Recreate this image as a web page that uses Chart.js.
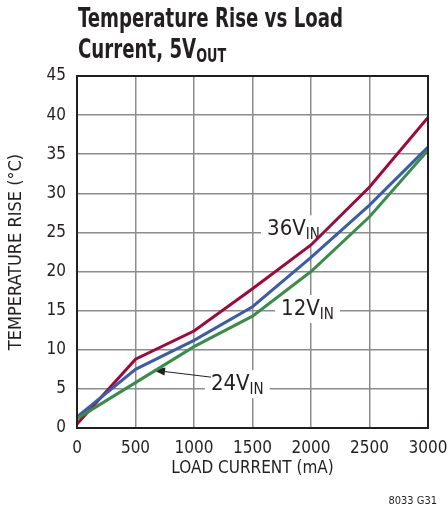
<!DOCTYPE html>
<html>
<head>
<meta charset="utf-8">
<script src="https://cdn.jsdelivr.net/npm/chart.js@4/dist/chart.umd.min.js"></script>
<style>
  html, body { margin: 0; padding: 0; background: #fff; }
  #wrap { width: 448px; height: 510px; position: relative; }
</style>
</head>
<body>
<div id="wrap"><canvas id="tempRise" width="448" height="510"></canvas></div>
<script>
const loadCurrent = [0, 500, 1000, 1500, 2000, 2500, 3000]; // mA
const rise12V = [1.2, 5.8, 10.4, 14.3, 20.0, 27.0, 35.5];
const rise24V = [1.4, 7.5, 11.2, 15.5, 21.8, 28.5, 35.9];
const rise36V = [0.5, 8.8, 12.4, 17.8, 23.4, 30.8, 39.7];
const xTicks = [0, 500, 1000, 1500, 2000, 2500, 3000];
const yTicks = [0, 5, 10, 15, 20, 25, 30, 35, 40, 45];

const FONT = '"Liberation Sans Narrow", "DejaVu Sans Condensed", Arial, sans-serif';
const INK = '#231f20';

// label positions are in data units, converted through the scales
const curveLabels = [
    { main: '36V', sub: 'IN', x: 1850, y: 25.4 },
    { main: '12V', sub: 'IN', x: 1970, y: 15.2 },
    { main: '24V', sub: 'IN', x: 1370, y: 5.6 }
];

function toXY(d) { return d.map((v, i) => ({ x: loadCurrent[i], y: v })); }

const decorations = {
    id: 'decorations',
    beforeDatasetsDraw(chart) {
        const { ctx, scales: { x, y } } = chart;
        ctx.save();
        ctx.textBaseline = 'middle';
        curveLabels.forEach(l => {
            const px = x.getPixelForValue(l.x);
            const py = y.getPixelForValue(l.y);
            ctx.font = '22px ' + FONT;
            const w1 = ctx.measureText(l.main).width;
            ctx.font = '15px ' + FONT;
            const w2 = ctx.measureText(l.sub).width;
            const w = w1 + w2;
            ctx.fillStyle = '#fff';
            ctx.fillRect(px - w / 2 - 6, py - 14, w + 12, 28);
            ctx.fillStyle = INK;
            ctx.textAlign = 'left';
            ctx.font = '22px ' + FONT;
            ctx.fillText(l.main, px - w / 2, py);
            ctx.font = '15px ' + FONT;
            ctx.fillText(l.sub, px - w / 2 + w1, py + 6);
        });
        // arrow for 24V
        const x0 = x.getPixelForValue(1145), y0 = y.getPixelForValue(6.5);
        const x1 = x.getPixelForValue(650), y1 = y.getPixelForValue(7.4);
        ctx.strokeStyle = INK;
        ctx.lineWidth = 1;
        ctx.beginPath();
        ctx.moveTo(x0, y0);
        ctx.lineTo(x1 + 8, y1 + 1);
        ctx.stroke();
        const a = Math.atan2(y0 - y1, x0 - x1);
        ctx.fillStyle = INK;
        ctx.beginPath();
        ctx.moveTo(x1, y1);
        ctx.lineTo(x1 + 12 * Math.cos(a) - 4 * Math.sin(a), y1 + 12 * Math.sin(a) + 4 * Math.cos(a));
        ctx.lineTo(x1 + 12 * Math.cos(a) + 4 * Math.sin(a), y1 + 12 * Math.sin(a) - 4 * Math.cos(a));
        ctx.closePath();
        ctx.fill();
        ctx.restore();
    },
    afterDraw(chart) {
        const { ctx, chartArea: ca } = chart;
        ctx.save();
        ctx.strokeStyle = INK;
        ctx.lineWidth = 2;
        ctx.strokeRect(ca.left, ca.top, ca.right - ca.left, ca.bottom - ca.top);

        // title with subscript, squeezed horizontally like a condensed face
        ctx.fillStyle = INK;
        ctx.textBaseline = 'alphabetic';
        ctx.textAlign = 'left';
        ctx.font = 'bold 27px ' + FONT;
        const line1 = 'Temperature Rise vs Load';
        const k = 265 / ctx.measureText(line1).width;
        ctx.save();
        ctx.translate(78, 0);
        ctx.scale(k, 1);
        ctx.fillText(line1, 0, 27);
        const t2 = 'Current, 5V';
        ctx.fillText(t2, 0, 58);
        const tw = ctx.measureText(t2).width;
        ctx.font = 'bold 19px ' + FONT;
        ctx.fillText('OUT', tw, 62);
        ctx.restore();

        ctx.font = '11px ' + FONT;
        ctx.textAlign = 'right';
        ctx.fillText('8033 G31', 437, 504);
        ctx.restore();
    }
};

new Chart(document.getElementById('tempRise'), {
    type: 'line',
    data: {
        datasets: [
            { label: '12V', data: toXY(rise12V), borderColor: '#3a8d48', borderWidth: 3, pointRadius: 0, tension: 0 },
            { label: '24V', data: toXY(rise24V), borderColor: '#3b5ca9', borderWidth: 3, pointRadius: 0, tension: 0 },
            { label: '36V', data: toXY(rise36V), borderColor: '#a0083a', borderWidth: 3, pointRadius: 0, tension: 0 }
        ]
    },
    options: {
        responsive: false,
        animation: false,
        layout: {
            padding: { top: 76, left: 0, right: 0, bottom: 0 }
        },
        scales: {
            x: {
                type: 'linear',
                min: 0,
                max: 3000,
                afterFit: s => { s.height = 82; s.paddingRight = 20; s.paddingLeft = 0; },
                afterBuildTicks: s => { s.ticks = xTicks.map(v => ({ value: v })); },
                grid: { color: '#8c8c8c', lineWidth: 1.5, drawTicks: false },
                border: { display: false },
                ticks: {
                    color: INK, padding: 10, maxRotation: 0,
                    font: { family: FONT, size: 17 },
                    callback: v => String(v)
                },
                title: {
                    display: true,
                    text: 'LOAD CURRENT (mA)',
                    color: INK,
                    font: { family: FONT, size: 17 },
                    padding: { top: 0, bottom: 31 }
                }
            },
            y: {
                min: 0,
                max: 45,
                afterFit: s => { s.width = 77; },
                afterBuildTicks: s => { s.ticks = yTicks.map(v => ({ value: v })); },
                grid: { color: '#8c8c8c', lineWidth: 1.5, drawTicks: false },
                border: { display: false },
                ticks: { color: INK, padding: 11, font: { family: FONT, size: 17 }, callback: v => String(v) },
                title: {
                    display: true,
                    text: 'TEMPERATURE RISE (°C)',
                    color: INK,
                    font: { family: FONT, size: 18 },
                    padding: { top: 6, bottom: 0 }
                }
            }
        },
        plugins: {
            legend: { display: false },
            tooltip: { enabled: false }
        }
    },
    plugins: [decorations]
});
</script>
</body>
</html>
